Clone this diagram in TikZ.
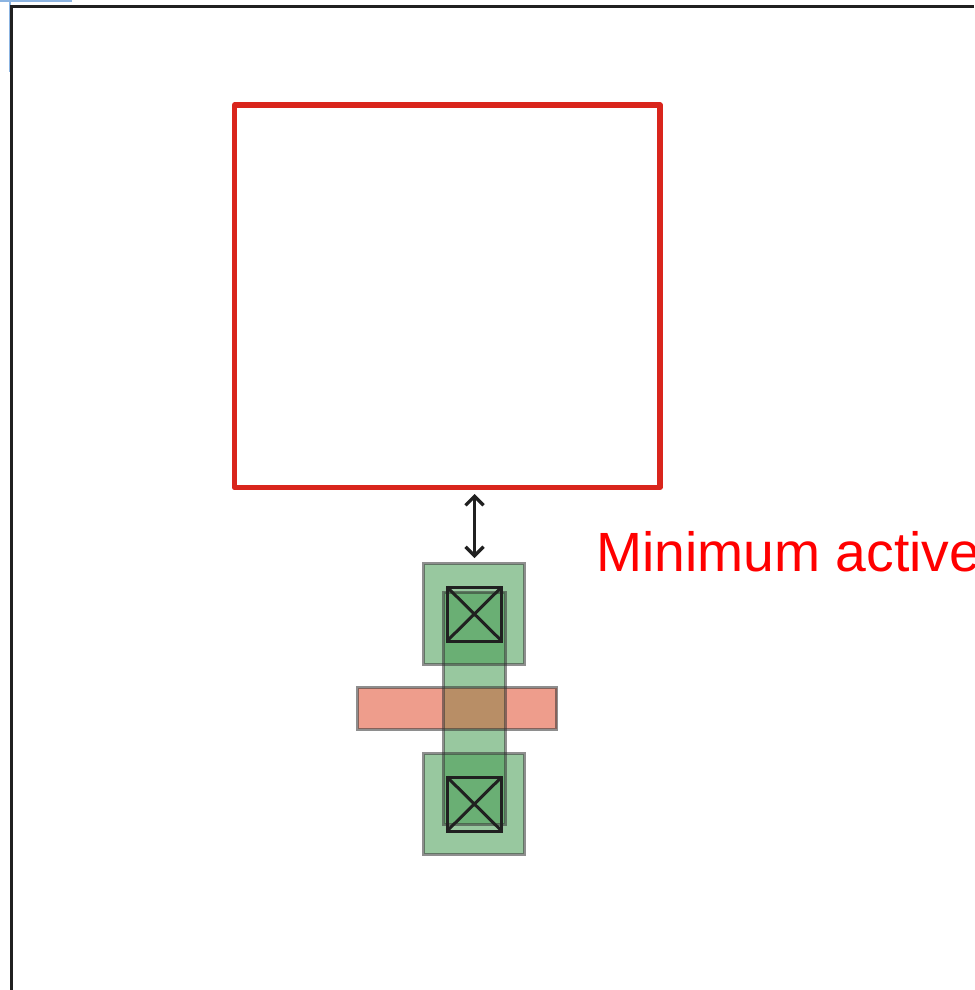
\documentclass[tikz,border=0pt]{standalone}
\usepackage{fontspec}
\setmainfont{Liberation Sans}
\usetikzlibrary{arrows.meta}
\definecolor{framecol}{RGB}{32,32,32}
\definecolor{guidecol}{RGB}{140,180,225}
\definecolor{boxred}{RGB}{217,37,28}
\definecolor{greenbase}{RGB}{69,156,83}
\definecolor{polycol}{RGB}{238,157,140}
\definecolor{overlapcol}{RGB}{184,142,102}
\definecolor{edgegray}{RGB}{50,50,50}
\tikzset{
  x=1pt,y=-1pt,
  guide/.style={draw=guidecol,line width=1.2pt},
  frameline/.style={draw=framecol,line width=3.2pt},
  keepout/.style={draw=boxred,line width=5.4pt,line join=round},
  greenfill/.style={fill=greenbase,fill opacity=.553},
  edgeline/.style={draw=edgegray,draw opacity=.55,line width=3pt},
  contactbox/.style={draw=framecol,line width=3pt},
  gaparrow/.style={draw=framecol,line width=3.2pt,{Straight Barb[length=9pt,width=18pt]}-{Straight Barb[length=9pt,width=18pt]}},
  label/.style={text=red,font=\fontsize{55.3pt}{60pt}\selectfont,anchor=base west,inner sep=0pt}
}
\begin{document}
\begin{tikzpicture}
\useasboundingbox (0,0) rectangle (974,990);
\clip (0,0) rectangle (974,990);
\fill[white] (0,0) rectangle (974,990);
% guides and frame
\draw[guide] (0,1) -- (72,1);
\draw[guide] (10,0) -- (10,72);
\draw[frameline] (974,6.5) -- (11.5,6.5) -- (11.5,990);
% keep-out box
\draw[keepout] (234.5,105) rectangle (660,487.5);
% spacing arrow
\coordinate (gaptop) at (474.5,494);
\coordinate (gapbot) at (474.5,558);
\draw[gaparrow] (gaptop) -- (gapbot);
% layer fills
\fill[greenfill] (423.7,563.7) rectangle (524.3,664);
\fill[greenfill] (423.7,753.5) rectangle (524.3,854);
\fill[greenfill] (443.5,592.3) rectangle (505,824);
\fill[polycol] (357.9,687.5) rectangle (556.5,729);
\fill[overlapcol] (443.5,687.5) rectangle (505,729);
% layer outlines
\draw[edgeline] (423.7,563.7) rectangle (524.3,664);
\draw[edgeline] (423.7,753.5) rectangle (524.3,854);
\draw[edgeline] (443.5,592.3) rectangle (505,824);
\draw[edgeline] (357.9,687.5) rectangle (556.5,729);
% contacts
\draw[contactbox] (447,587) rectangle (501.7,641);
\draw[contactbox] (447,587) -- (501.7,641) (501.7,587) -- (447,641);
\draw[contactbox] (447,777) rectangle (501.7,831);
\draw[contactbox] (447,777) -- (501.7,831) (501.7,777) -- (447,831);
% label
\node[label] (minlabel) at (596,571.5) {Minimum active};
\end{tikzpicture}
\end{document}
